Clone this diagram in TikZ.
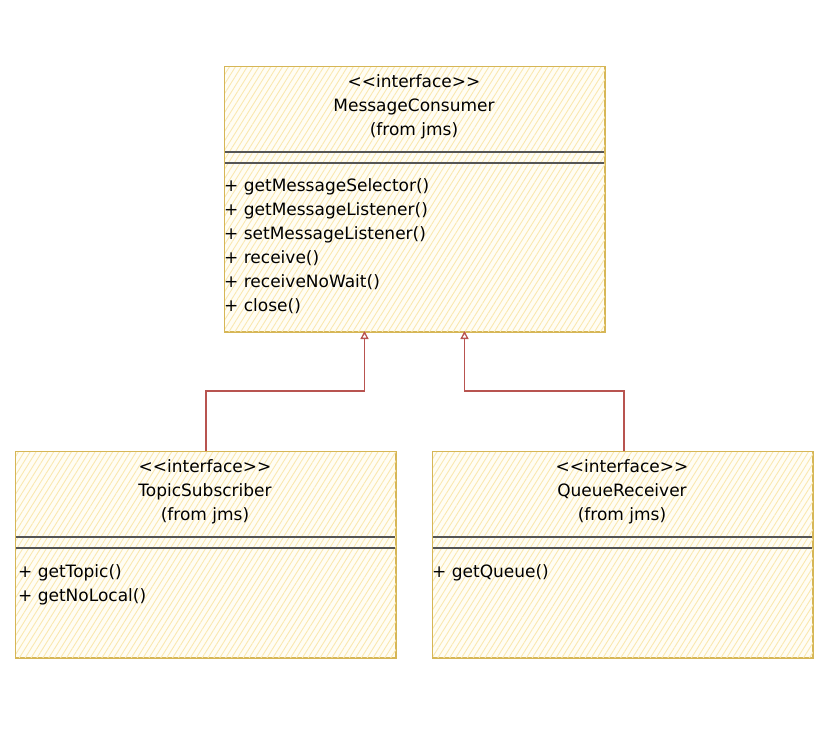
\documentclass[tikz,border=0pt]{standalone}
\usepackage{fontspec}
\setmainfont{DejaVu Sans}
\usetikzlibrary{arrows.meta,patterns.meta,calc}
\definecolor{boxline}{HTML}{D6B656}
\definecolor{hatch}{HTML}{FAE8B0}
\definecolor{boxfill}{HTML}{FFFDF4}
\definecolor{sepline}{HTML}{555555}
\definecolor{genline}{HTML}{B85450}
\tikzset{
  umlbox/.style={draw=boxline, line width=1pt, fill=boxfill, anchor=north west,
    inner sep=0pt, minimum width=380pt},
  hatchfill/.style={pattern={Lines[angle=58,distance=5pt,line width=0.9pt]}, pattern color=hatch},
  sep/.style={draw=sepline, line width=1.3pt},
  title/.style={font=\fontsize{17}{24}\selectfont, align=center, anchor=north, inner sep=0pt},
  ops/.style={font=\fontsize{17}{24}\selectfont, align=left, anchor=north west, inner sep=0pt},
  gen/.style={draw=genline, line width=1.3pt, -{Triangle[open,length=8pt,width=8pt,fill=white]}},
}
\newcommand{\stereo}{{<}{<}interface{>}{>}}
\begin{document}
\begin{tikzpicture}[x=1pt,y=-1pt]
\useasboundingbox (0,0) rectangle (827,736);

% MessageConsumer
\node[umlbox, minimum height=265pt] (mc) at (224,66) {};
\fill[hatchfill] (mc.north west) rectangle (mc.south east);
\draw[sep] (224,152) -- (604,152);
\draw[sep] (224,163) -- (604,163);
\node[title] (mct) at (414,74) {\stereo\\MessageConsumer\\(from jms)};
\node[ops] (mco) at (224,178) {+ getMessageSelector()\\+ getMessageListener()\\+ setMessageListener()\\+ receive()\\+ receiveNoWait()\\+ close()};

% TopicSubscriber
\node[umlbox, minimum height=206pt] (ts) at (15,451) {};
\fill[hatchfill] (ts.north west) rectangle (ts.south east);
\draw[sep] (15,537) -- (395,537);
\draw[sep] (15,548) -- (395,548);
\node[title] (tst) at (205,459) {\stereo\\TopicSubscriber\\(from jms)};
\node[ops] (tso) at (18,564) {+ getTopic()\\+ getNoLocal()};

% QueueReceiver
\node[umlbox, minimum height=206pt] (qr) at (432,451) {};
\fill[hatchfill] (qr.north west) rectangle (qr.south east);
\draw[sep] (432,537) -- (812,537);
\draw[sep] (432,548) -- (812,548);
\node[title] (qrt) at (622,459) {\stereo\\QueueReceiver\\(from jms)};
\node[ops] (qro) at (432,564) {+ getQueue()};

% borders drawn again over the hatching
\draw[boxline, line width=1pt] (mc.north west) rectangle (mc.south east);
\draw[boxline, line width=1pt] (ts.north west) rectangle (ts.south east);
\draw[boxline, line width=1pt] (qr.north west) rectangle (qr.south east);

% generalisation connectors
\coordinate (mcL) at (364.5,331);
\coordinate (mcR) at (464.5,331);
\draw[gen] (ts.north) ++(0.5,0) coordinate (tsT) (tsT) -- ++(0,-60) -| (mcL);
\draw[gen] (qr.north) ++(1.5,0) coordinate (qrT) (qrT) -- ++(0,-60) -| (mcR);
\end{tikzpicture}
\end{document}
